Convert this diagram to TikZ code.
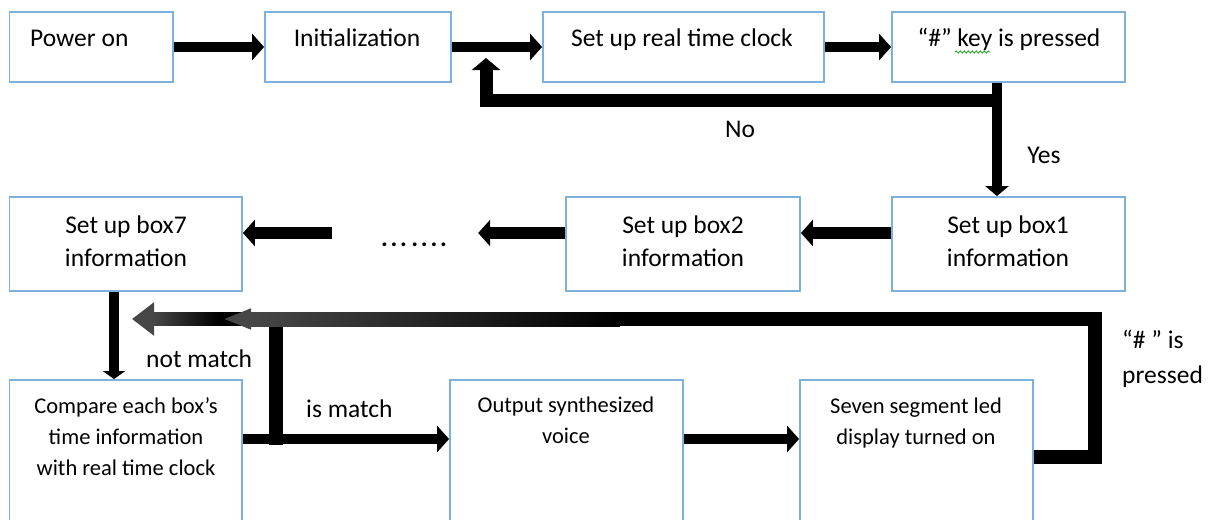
\documentclass[tikz,border=0pt]{standalone}
\usepackage{fontspec}
\setmainfont{Carlito}
\usetikzlibrary{arrows.meta,decorations.pathmorphing}

\definecolor{boxblue}{HTML}{7EB0DE}
\definecolor{squiggle}{HTML}{2EA82E}
\definecolor{tipgray}{gray}{0.28}

\tikzset{
  box/.style={draw=boxblue, line width=1.8pt, fill=white, inner sep=0pt},
  big/.style={font=\fontsize{25.5}{33}\selectfont, inner sep=0pt, align=center},
  small/.style={font=\fontsize{22.5}{31}\selectfont, inner sep=0pt, align=center},
  flow/.style={line width=10pt, -{Triangle[width=26pt,length=12pt]}},
  branch/.style={line width=13pt, line join=miter, -{Triangle[width=28pt,length=12pt]}},
  back/.style={line width=13.5pt, line join=miter, -{Triangle[width=32pt,length=22pt,color=tipgray]}},
  loopback/.style={line width=14pt, line join=miter, -{Triangle[width=19pt,length=28pt,color=tipgray]}},
}

\begin{document}
\begin{tikzpicture}[x=1pt,y=-1pt]
\useasboundingbox (0,0) rectangle (1217,519);

% process boxes
\node[box, minimum width=163.5pt, minimum height=70pt] (power) at (91.25,47)  {};
\node[box, minimum width=186pt,   minimum height=70pt] (init)  at (358,47)    {};
\node[box, minimum width=281pt,   minimum height=70pt] (rtc)   at (683.5,47)  {};
\node[box, minimum width=233pt,   minimum height=70pt] (key)   at (1008.5,47) {};

\node[box, minimum width=233pt,   minimum height=94pt] (box1)  at (1008.5,244) {};
\node[box, minimum width=234pt,   minimum height=94pt] (box2)  at (683,244)    {};
\node[box, minimum width=232.5pt, minimum height=94pt] (box7)  at (125.75,244) {};

\node[box, minimum width=232.5pt, minimum height=145pt] (cmp) at (125.75,452.5) {};
\node[box, minimum width=233pt,   minimum height=145pt] (out) at (566.5,452.5)  {};
\node[box, minimum width=233pt,   minimum height=145pt] (seg) at (916.5,452.5)  {};

% box texts (base anchor = baseline of the last line)
\node[big, anchor=base west] (power-t) at (30,47) {Power on};
\node[big, anchor=base] (init-t) at (357,47) {Initialization};
\node[big, anchor=base] (rtc-t)  at (682,47) {Set up real time clock};
\node[big, anchor=base] (key-t)  at (1009,47) {“\#” key is pressed};
\draw[squiggle, line width=0.9pt, decorate,
      decoration={snake, amplitude=1.1pt, segment length=4pt}]
  (955,52) -- (990,52);

\node[big, anchor=base] (box1-t) at (1008,266) {Set up box1\\information};
\node[big, anchor=base] (box2-t) at (683,266)  {Set up box2\\information};
\node[big, anchor=base] (box7-t) at (126,266)  {Set up box7\\information};
\node[big, anchor=base] (dots)   at (414,246)  {\bfseries\addfontfeature{LetterSpace=11}...\,....};

\node[small, anchor=base] (cmp-t) at (126,475) {Compare each box’s\\time information\\with real time clock};
\node[small, anchor=base] (out-t) at (566,443) {Output synthesized\\voice};
\node[small, anchor=base] (seg-t) at (916,444) {Seven segment led\\display turned on};

% branch labels
\node[big, anchor=base] (no-l)  at (740,137)  {No};
\node[big, anchor=base] (yes-l) at (1044,163) {Yes};
\node[big, anchor=base west] (nm-l) at (146,367) {not match};
\node[big, anchor=base west] (im-l) at (306,417) {is match};
\node[big, anchor=base west, align=left, font=\fontsize{25.5}{35}\selectfont] (hp-l) at (1122,383) {“\# ” is\\pressed};

% guide coordinates for the connector lanes
\coordinate (yx) at (997,0);
\coordinate (r2) at (0,233);
\coordinate (dx) at (114,0);
\coordinate (r3) at (0,439);
\coordinate (s1) at (0,457);
\coordinate (nj) at (997,100);
\coordinate (nc) at (486,100);
\coordinate (nt) at (486,58);
\coordinate (mj) at (276,444.5);
\coordinate (mc) at (276,319);
\coordinate (mt) at (132,319);
\coordinate (lc1) at (1095,457);
\coordinate (lc2) at (1095,319);
\coordinate (lt) at (223,319);

% top row
\draw[flow] (power.east) -- (init.west);
\draw[flow] (init.east) -- (rtc.west);
\draw[flow] (rtc.east) -- (key.west);

% decision on the key
\draw[branch] (nj) -- (nc) -- (nt);
\draw[line width=10pt, -{Triangle[width=23pt,length=10pt]}] (key.south -| yx) -- (box1.north -| yx);

% box set-up chain
\draw[line width=12pt, -{Triangle[width=26pt,length=12pt]}] (box1.west |- r2) -- (box2.east |- r2);
\draw[line width=12pt, -{Triangle[width=26pt,length=12pt]}, shorten >=31pt] (box2.west |- r2) -- (dots.east |- r2);
\draw[line width=12pt, -{Triangle[width=26pt,length=12pt]}, shorten <=49pt] (dots.west |- r2) -- (box7.east |- r2);
\draw[line width=10pt, -{Triangle[width=22pt,length=8pt]}] (box7.south -| dx) -- (cmp.north -| dx);

% bottom row
\draw[flow] (cmp.east |- r3) -- (out.west |- r3);
\draw[flow] (out.east |- r3) -- (seg.west |- r3);

% not match feedback
\draw[back] (mj) -- (mc) -- (mt);
\shade[left color=tipgray, right color=black] (153,312.25) rectangle (218,325.75);

% display loop back
\draw[loopback] (seg.east |- s1) -- (lc1) -- (lc2) -- (lt);
\shade[left color=tipgray, right color=black] (249,312) rectangle (620,326);
\end{tikzpicture}
\end{document}
